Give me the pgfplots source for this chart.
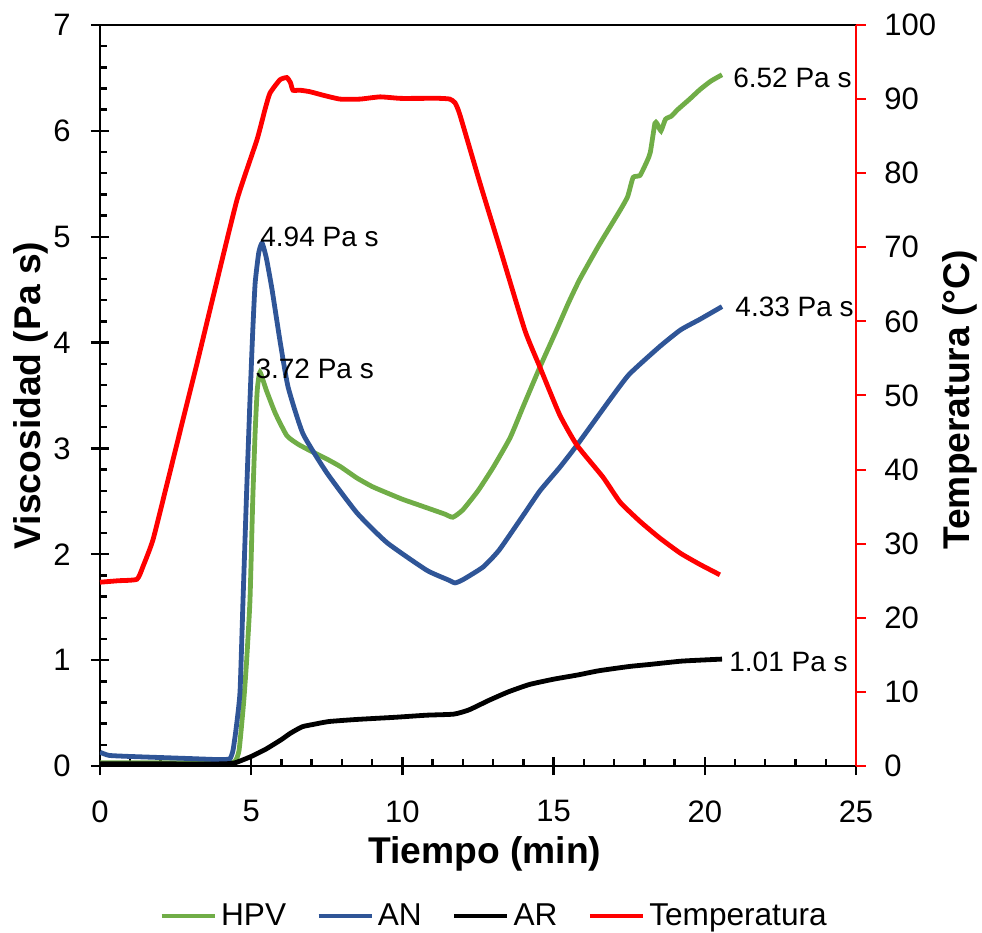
\documentclass[border=0pt]{standalone}
\usepackage{pgfplots}
\pgfplotsset{compat=1.18}
\usepackage{fontspec}
\setmainfont{Liberation Sans}
\definecolor{hpv}{HTML}{70AD47}
\definecolor{an}{HTML}{2F5597}
\definecolor{tred}{HTML}{FF0000}
\begin{document}
\begin{tikzpicture}
\pgfplotsset{
  common/.style={
    at={(0,0)}, anchor=south west,
    scale only axis, width=378pt, height=370.5pt,
    xmin=0, xmax=25,
    tick label style={font=\fontsize{15.5}{18}\selectfont},
    label style={font=\bfseries\fontsize{18.6}{22}\selectfont},
    /pgf/number format/assume math mode=true,
  },
}
\begin{axis}[
    common,
    ymin=0, ymax=7,
    xtick={0,5,...,25}, ytick={0,1,...,7},
    minor x tick num=4, minor y tick num=4,
    tick pos=left,
    tick align=center,
    major tick length=9pt,
    minor tick length=3.5pt,
    minor x tick style={yshift=1.75pt},
    minor y tick style={xshift=1.75pt},
    tick style={line width=1.2pt, black},
    axis line style={line width=1.2pt},
    every x tick label/.append style={inner ysep=12.5pt},
    every y tick label/.append style={inner xsep=10pt},
    xlabel={Tiempo (min)},
    ylabel={Viscosidad (Pa s)},
    xlabel style={at={(axis description cs:0.509,-0.118)}, anchor=center},
    ylabel style={at={(axis description cs:-0.0913,0.5)}, anchor=center},
    legend columns=4,
    legend style={draw=none, at={(axis description cs:0.5225,-0.2024)}, anchor=center,
      font=\fontsize{15.8}{18}\selectfont,
      /tikz/every even column/.append style={column sep=13pt}},
    legend image code/.code={\draw[#1, line width=2.4pt] (0pt,0pt) -- (26.5pt,0pt);},
  ]
\addplot[hpv, line width=2.4pt, smooth, tension=0.3] coordinates {
(0,0.03)(1,0.03)(2,0.03)(3,0.03)(4,0.03)(4.45,0.04)(4.6,0.15)(4.75,0.6)(4.85,1.0)
(4.96,1.57)(5.05,2.5)(5.13,3.15)(5.2,3.55)(5.29,3.72)(5.5,3.55)(5.8,3.33)(6.18,3.12)
(6.55,3.04)(6.94,2.98)(7.5,2.9)(7.94,2.83)(8.5,2.72)(9.0,2.64)(9.49,2.58)(10,2.52)
(10.5,2.47)(11,2.42)(11.4,2.38)(11.67,2.35)(12.0,2.42)(12.5,2.6)(13.0,2.82)(13.56,3.10)
(14.0,3.4)(14.55,3.77)(15.1,4.12)(15.5,4.38)(15.87,4.6)(16.5,4.92)(17.2,5.25)(17.45,5.38)
(17.63,5.56)(17.86,5.58)(18.1,5.72)(18.2,5.8)(18.35,6.07)(18.42,6.07)(18.55,6.0)(18.7,6.11)
(18.9,6.14)(19.1,6.2)(19.5,6.3)(19.84,6.39)(20.2,6.47)(20.57,6.53)
};
\addlegendentry{HPV}
\addplot[an, line width=2.4pt, smooth, tension=0.3] coordinates {
(0,0.13)(0.3,0.1)(1,0.09)(2,0.08)(3,0.07)(4,0.06)(4.3,0.07)(4.4,0.15)(4.5,0.35)(4.63,0.7)
(4.73,1.57)(4.85,2.6)(4.96,3.46)(5.05,4.1)(5.13,4.56)(5.25,4.85)(5.36,4.94)(5.5,4.8)
(5.69,4.5)(5.95,4.02)(6.22,3.58)(6.71,3.14)(7.5,2.77)(8.5,2.39)(9.49,2.11)(10.8,1.85)
(11.5,1.76)(11.74,1.73)(12.0,1.76)(12.67,1.88)(13.2,2.04)(14,2.37)(14.55,2.6)(15.2,2.82)
(15.77,3.03)(16.86,3.46)(17.5,3.7)(18.5,3.96)(19.2,4.12)(19.84,4.22)(20.57,4.34)
};
\addlegendentry{AN}
\addplot[black, line width=2.4pt, smooth, tension=0.3] coordinates {
(0,0.02)(2,0.02)(4,0.02)(4.46,0.03)(5.0,0.09)(5.49,0.16)(6.0,0.25)(6.3,0.31)(6.68,0.37)
(7.0,0.39)(7.57,0.42)(8.5,0.44)(9.75,0.46)(10.8,0.48)(11.7,0.49)(12.2,0.53)(12.86,0.62)
(13.5,0.7)(14.2,0.77)(15,0.82)(15.8,0.86)(16.5,0.9)(17.5,0.94)(18.2,0.96)(19.2,0.99)
(19.84,1.0)(20.57,1.01)
};
\addlegendentry{AR}
\addlegendimage{tred}
\addlegendentry{Temperatura}
\begin{scope}[every node/.style={anchor=west, inner sep=0pt, font=\fontsize{14}{16}\selectfont}]
\node at (axis cs:20.93,6.50) {6.52 Pa s};
\node at (axis cs:21.0,4.34) {4.33 Pa s};
\node at (axis cs:20.80,0.98) {1.01 Pa s};
\node at (axis cs:5.29,5.0) {4.94 Pa s};
\node at (axis cs:5.13,3.75) {3.72 Pa s};
\end{scope}
\end{axis}
\begin{axis}[
    common,
    ymin=0, ymax=100,
    ytick={0,10,...,100},
    axis x line=none,
    axis y line*=right,
    y axis line style={tred, line width=1pt, -},
    tick align=outside,
    major tick length=5pt,
    ytick style={tred, line width=1pt},
    every y tick label/.append style={inner xsep=9pt},
    ylabel={Temperatura (°C)},
    ylabel style={at={(axis description cs:1.1376,0.494)}, anchor=center},
  ]
\addplot[tred, line width=2.4pt, smooth, tension=0.3] coordinates {
(0,24.8)(0.6,25.0)(1.22,25.2)(1.42,26.9)(1.75,30.5)(2.2,37.8)(2.65,45.2)(3.2,54.2)
(3.74,63.3)(4.53,76.4)(5.19,84.5)(5.45,88.5)(5.62,90.8)(5.95,92.6)(6.18,92.9)(6.3,92.2)
(6.38,91.2)(6.61,91.2)(6.94,91.0)(7.4,90.5)(7.94,90.0)(8.6,90.0)(9.26,90.3)(9.92,90.1)
(10.6,90.1)(11.24,90.1)(11.57,90.0)(11.74,89.5)(11.9,87.9)(12.57,78.6)(13.23,69.8)
(14.05,58.8)(14.55,53.8)(15.2,47.4)(15.77,43.3)(16.63,39.0)(17.2,35.6)(17.86,33.0)
(18.5,30.8)(19.2,28.7)(19.84,27.2)(20.5,25.8)
};
\end{axis}
\pgfresetboundingbox
\path[use as bounding box] (-50pt,-83.5pt) rectangle (441pt,383pt);
\end{tikzpicture}
\end{document}
